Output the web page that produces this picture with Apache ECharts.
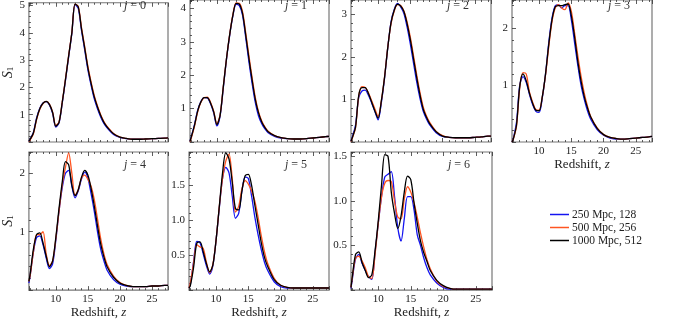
<!DOCTYPE html>
<html>
<head>
<meta charset="utf-8">
<script src="https://cdn.jsdelivr.net/npm/echarts@6/dist/echarts.min.js"></script>
<style>
  html, body { margin: 0; padding: 0; background: #fff; }
  #main { width: 673px; height: 320px; }
</style>
</head>
<body>
<div id="main"></div>
<script>
// redshift grid shared by all curves
const z = [5.8, 6, 6.5, 7, 7.5, 8, 8.5, 9, 9.5, 10, 10.5, 11, 11.5, 12, 12.5, 13, 13.5, 14, 14.5, 15,
  15.5, 16, 16.5, 17, 17.5, 18, 19, 20, 21, 22, 23, 24, 25, 26, 27, 27.5]

const runNames = ['250 Mpc, 128', '500 Mpc, 256', '1000 Mpc, 512']
const runColors = ['#1414f0', '#ff5522', '#000000']

// j = 0
const j0_250 = [0.02, 0.1, 0.35, 0.88, 1.24, 1.43, 1.48, 1.36, 1.05, 0.55, 0.7, 1.42, 2.25, 3.12, 3.98, 5.03, 4.9, 4.1, 3.38, 2.65, 2.08, 1.58, 1.22, 0.92, 0.68, 0.52, 0.28, 0.17, 0.12, 0.1, 0.1, 0.11, 0.12, 0.13, 0.14, 0.15]
const j0_500 = [0.01, 0.08, 0.3, 0.82, 1.2, 1.41, 1.49, 1.39, 1.1, 0.6, 0.74, 1.47, 2.3, 3.17, 4.02, 5.05, 4.97, 4.2, 3.5, 2.78, 2.2, 1.7, 1.32, 1.0, 0.75, 0.57, 0.31, 0.18, 0.13, 0.1, 0.1, 0.11, 0.12, 0.13, 0.14, 0.15]
const j0_1000 = [0.02, 0.1, 0.33, 0.85, 1.22, 1.42, 1.49, 1.38, 1.08, 0.58, 0.72, 1.45, 2.28, 3.15, 4.0, 5.05, 4.95, 4.15, 3.45, 2.72, 2.15, 1.65, 1.28, 0.97, 0.72, 0.55, 0.3, 0.18, 0.13, 0.1, 0.1, 0.11, 0.12, 0.13, 0.14, 0.15]
// j = 1
const j1_250 = [0.02, 0.16, 0.52, 0.95, 1.21, 1.33, 1.32, 1.15, 0.87, 0.48, 0.78, 1.62, 2.48, 3.2, 3.78, 4.12, 4.08, 3.8, 3.12, 2.4, 1.75, 1.18, 0.78, 0.55, 0.39, 0.28, 0.17, 0.12, 0.1, 0.09, 0.09, 0.1, 0.12, 0.14, 0.16, 0.17]
const j1_500 = [0.01, 0.12, 0.47, 0.9, 1.19, 1.33, 1.34, 1.19, 0.92, 0.55, 0.82, 1.67, 2.5, 3.23, 3.82, 4.16, 4.15, 3.9, 3.27, 2.58, 1.92, 1.33, 0.9, 0.63, 0.45, 0.32, 0.19, 0.13, 0.1, 0.09, 0.09, 0.1, 0.12, 0.14, 0.16, 0.17]
const j1_1000 = [0.02, 0.15, 0.5, 0.93, 1.2, 1.33, 1.33, 1.17, 0.9, 0.52, 0.8, 1.65, 2.5, 3.22, 3.8, 4.15, 4.13, 3.85, 3.2, 2.5, 1.85, 1.27, 0.87, 0.6, 0.43, 0.31, 0.19, 0.13, 0.1, 0.09, 0.09, 0.1, 0.12, 0.14, 0.16, 0.17]
// j = 2
const j2_250 = [0.02, 0.12, 0.4, 1.05, 1.2, 1.22, 1.1, 0.92, 0.72, 0.52, 0.92, 1.5, 2.22, 2.82, 3.12, 3.26, 3.18, 3.02, 2.7, 2.3, 1.85, 1.4, 1.02, 0.72, 0.54, 0.4, 0.22, 0.13, 0.11, 0.1, 0.1, 0.1, 0.11, 0.12, 0.14, 0.14]
const j2_500 = [0.01, 0.09, 0.33, 1.08, 1.3, 1.28, 1.16, 0.97, 0.78, 0.6, 0.97, 1.53, 2.23, 2.78, 3.08, 3.23, 3.21, 3.08, 2.82, 2.46, 2.02, 1.57, 1.16, 0.82, 0.61, 0.46, 0.25, 0.15, 0.11, 0.1, 0.1, 0.1, 0.11, 0.12, 0.14, 0.14]
const j2_1000 = [0.02, 0.1, 0.35, 1.1, 1.28, 1.28, 1.14, 0.94, 0.73, 0.56, 0.96, 1.52, 2.22, 2.8, 3.1, 3.24, 3.2, 3.07, 2.78, 2.4, 1.95, 1.5, 1.1, 0.77, 0.58, 0.43, 0.24, 0.14, 0.11, 0.1, 0.1, 0.1, 0.11, 0.12, 0.14, 0.14]
// j = 3
const j3_250 = [0.0, 0.06, 0.35, 1.0, 1.15, 1.05, 0.84, 0.66, 0.54, 0.52, 0.78, 1.2, 1.75, 2.18, 2.4, 2.42, 2.36, 2.4, 2.4, 2.15, 1.75, 1.35, 1.0, 0.75, 0.55, 0.4, 0.22, 0.12, 0.07, 0.05, 0.05, 0.06, 0.07, 0.08, 0.09, 0.1]
const j3_500 = [0.0, 0.05, 0.28, 0.95, 1.22, 1.2, 0.88, 0.7, 0.57, 0.56, 0.8, 1.18, 1.68, 2.12, 2.36, 2.42, 2.36, 2.33, 2.45, 2.3, 1.92, 1.52, 1.16, 0.86, 0.63, 0.45, 0.25, 0.13, 0.08, 0.06, 0.05, 0.06, 0.07, 0.08, 0.09, 0.1]
const j3_1000 = [0.0, 0.05, 0.3, 0.98, 1.2, 1.08, 0.86, 0.68, 0.56, 0.55, 0.8, 1.2, 1.72, 2.15, 2.38, 2.4, 2.4, 2.42, 2.43, 2.22, 1.85, 1.42, 1.07, 0.8, 0.6, 0.44, 0.24, 0.13, 0.08, 0.06, 0.05, 0.06, 0.07, 0.08, 0.09, 0.1]
// j = 4
const j4_250 = [0.12, 0.25, 0.65, 0.9, 0.93, 0.78, 0.55, 0.37, 0.45, 0.85, 1.35, 1.75, 2.0, 2.05, 1.78, 1.58, 1.7, 1.9, 2.02, 1.92, 1.65, 1.35, 1.0, 0.7, 0.5, 0.34, 0.18, 0.1, 0.07, 0.06, 0.06, 0.06, 0.07, 0.07, 0.08, 0.08]
const j4_500 = [0.15, 0.25, 0.65, 0.95, 0.95, 1.0, 0.62, 0.42, 0.5, 0.88, 1.35, 1.8, 2.1, 2.35, 2.0, 1.62, 1.72, 1.92, 1.97, 1.9, 1.78, 1.55, 1.22, 0.88, 0.62, 0.44, 0.24, 0.13, 0.08, 0.06, 0.06, 0.06, 0.07, 0.07, 0.08, 0.08]
const j4_1000 = [0.15, 0.28, 0.7, 0.95, 0.98, 0.81, 0.58, 0.4, 0.5, 0.9, 1.4, 1.85, 2.2, 2.15, 1.8, 1.62, 1.72, 1.93, 2.05, 1.97, 1.74, 1.44, 1.1, 0.79, 0.57, 0.4, 0.22, 0.12, 0.08, 0.06, 0.06, 0.06, 0.07, 0.07, 0.08, 0.08]
// j = 5
const j5_250 = [0.03, 0.08, 0.4, 0.7, 0.68, 0.52, 0.35, 0.23, 0.35, 0.72, 1.18, 1.6, 1.76, 1.68, 1.35, 1.03, 1.1, 1.42, 1.62, 1.6, 1.35, 1.05, 0.8, 0.58, 0.4, 0.28, 0.12, 0.05, 0.03, 0.03, 0.03, 0.03, 0.03, 0.03, 0.03, 0.03]
const j5_500 = [0.03, 0.1, 0.38, 0.65, 0.62, 0.6, 0.4, 0.25, 0.37, 0.72, 1.2, 1.6, 1.85, 1.95, 1.6, 1.12, 1.2, 1.45, 1.57, 1.52, 1.42, 1.28, 1.05, 0.78, 0.55, 0.38, 0.17, 0.07, 0.04, 0.03, 0.03, 0.03, 0.03, 0.03, 0.03, 0.03]
const j5_1000 = [0.03, 0.06, 0.32, 0.67, 0.69, 0.55, 0.38, 0.26, 0.36, 0.72, 1.2, 1.68, 1.97, 1.88, 1.55, 1.17, 1.15, 1.42, 1.64, 1.66, 1.5, 1.22, 0.95, 0.68, 0.47, 0.34, 0.15, 0.07, 0.04, 0.03, 0.03, 0.03, 0.03, 0.03, 0.03, 0.03]
// j = 6
const j6_250 = [0.02, 0.12, 0.35, 0.4, 0.3, 0.22, 0.15, 0.12, 0.42, 0.75, 1.05, 1.27, 1.3, 1.33, 1.05, 0.7, 0.55, 0.8, 1.05, 1.05, 0.9, 0.62, 0.5, 0.36, 0.25, 0.17, 0.08, 0.03, 0.01, 0.01, 0.01, 0.01, 0.01, 0.01, 0.01, 0.01]
const j6_500 = [0.03, 0.14, 0.36, 0.38, 0.33, 0.25, 0.15, 0.13, 0.4, 0.75, 1.05, 1.2, 1.23, 1.22, 1.0, 0.82, 0.8, 1.02, 1.16, 1.1, 0.98, 0.82, 0.64, 0.48, 0.34, 0.24, 0.1, 0.04, 0.02, 0.01, 0.01, 0.01, 0.01, 0.01, 0.01, 0.01]
const j6_1000 = [0.03, 0.15, 0.4, 0.43, 0.31, 0.22, 0.14, 0.17, 0.44, 0.78, 1.18, 1.52, 1.5, 1.1, 0.86, 0.69, 0.83, 1.1, 1.28, 1.24, 0.98, 0.75, 0.55, 0.42, 0.32, 0.22, 0.11, 0.05, 0.02, 0.01, 0.01, 0.01, 0.01, 0.01, 0.01, 0.01]

// ===================== layout =====================
const FONT = 'Liberation Serif'
const panels = [
  { j: 0, runs: [j0_250, j0_500, j0_1000], yMax: 5.1, step: 1, box: [28, -3, 140, 145], xLab: false, yName: true },
  { j: 1, runs: [j1_250, j1_500, j1_1000], yMax: 4.25, step: 1, box: [190, -3, 139, 145], xLab: false },
  { j: 2, runs: [j2_250, j2_500, j2_1000], yMax: 3.34, step: 1, box: [351, -3, 140, 145], xLab: false },
  { j: 3, runs: [j3_250, j3_500, j3_1000], yMax: 2.5, step: 1, box: [512, -3, 140, 145], xLab: true },
  { j: 4, runs: [j4_250, j4_500, j4_1000], yMax: 2.365, step: 1, box: [28, 152, 140, 149], xLab: true, yName: true },
  { j: 5, runs: [j5_250, j5_500, j5_1000], yMax: 1.98, step: 0.5, box: [189, 152, 140, 149], xLab: true },
  { j: 6, runs: [j6_250, j6_500, j6_1000], yMax: 1.55, step: 0.5, box: [351, 152, 141, 149], xLab: true },
]

const tickStyle = { color: '#333', width: 0.8 }

const xAxisFor = (i, p, top) => ({
  type: 'value',
  gridIndex: i,
  position: top ? 'top' : 'bottom',
  min: 5.8,
  max: 27.5,
  splitNumber: 4,
  axisLine: { show: false },
  axisTick: { show: true, inside: true, length: 4, lineStyle: tickStyle },
  minorTick: { show: true, splitNumber: 5, length: 2, lineStyle: tickStyle },
  splitLine: { show: false },
  axisLabel: {
    show: !top && p.xLab,
    margin: 4,
    color: '#222',
    fontFamily: FONT,
    fontSize: 11,
    formatter: (v) => (Math.abs(v / 5 - Math.round(v / 5)) < 1e-6 ? String(v) : ''),
  },
  name: !top && p.xLab ? 'Redshift, {i|z}' : '',
  nameLocation: 'middle',
  nameGap: 13,
  nameTextStyle: {
    color: '#222',
    fontFamily: FONT,
    fontSize: 13,
    rich: { i: { fontStyle: 'italic', fontFamily: FONT, fontSize: 13, color: '#222' } },
  },
})

const option = {
  animation: false,
  backgroundColor: '#fff',
  grid: panels.map((p) => ({
    left: p.box[0],
    top: p.box[1],
    width: p.box[2],
    height: p.box[3],
    show: true,
    borderColor: '#777',
    borderWidth: 1.2,
    backgroundColor: 'transparent',
  })),
  xAxis: panels.flatMap((p, i) => [xAxisFor(i, p, false), xAxisFor(i, p, true)]),
  yAxis: panels.map((p, i) => ({
    type: 'value',
    gridIndex: i,
    min: 0,
    max: p.yMax,
    interval: p.step,
    axisLine: { show: false },
    axisTick: { show: true, inside: true, length: 4, lineStyle: tickStyle },
    minorTick: { show: true, splitNumber: 5, length: 2, lineStyle: tickStyle },
    splitLine: { show: false },
    axisLabel: {
      margin: 4,
      color: '#222',
      fontFamily: FONT,
      fontSize: 11,
      formatter: (v) => {
        if (v <= 0) return ''
        const k = v / p.step
        if (Math.abs(k - Math.round(k)) > 1e-6) return ''
        return p.step < 1 ? v.toFixed(1) : String(v)
      },
    },
    name: p.yName ? '{s|S}{b|1}' : '',
    nameLocation: 'middle',
    nameRotate: 90,
    nameGap: 12,
    nameTextStyle: {
      rich: {
        s: { fontFamily: FONT, fontStyle: 'italic', fontSize: 14, color: '#222' },
        b: { fontFamily: FONT, fontSize: 9, color: '#222', padding: [6, 0, 0, 0] },
      },
    },
  })),
  legend: {
    orient: 'vertical',
    left: 550,
    top: 208,
    padding: 0,
    icon: 'rect',
    itemWidth: 19,
    itemHeight: 1.5,
    itemGap: 0,
    data: runNames,
    textStyle: { fontFamily: FONT, fontSize: 11.5, lineHeight: 13, color: '#222', padding: [0, 0, 0, -2] },
  },
  graphic: panels.map((p) => ({
    type: 'text',
    x: p.box[0] + p.box[2] - 44,
    y: p.box[1] < 0 ? 0 : p.box[1] + 7,
    style: {
      text: '{i|j} = ' + p.j,
      fontFamily: FONT,
      fontSize: 12,
      fill: '#333',
      rich: { i: { fontStyle: 'italic', fontFamily: FONT, fontSize: 12, fill: '#333' } },
    },
  })),
  series: panels.flatMap((p, i) =>
    p.runs.map((vals, r) => ({
      name: runNames[r],
      type: 'line',
      xAxisIndex: 2 * i,
      yAxisIndex: i,
      data: z.map((zz, k) => [zz, vals[k]]),
      symbol: 'none',
      smooth: 0.3,
      color: runColors[r],
      lineStyle: { width: 1.3, color: runColors[r] },
    }))
  ),
}

const myChart = echarts.init(document.getElementById('main'))
myChart.setOption(option)
</script>
</body>
</html>
